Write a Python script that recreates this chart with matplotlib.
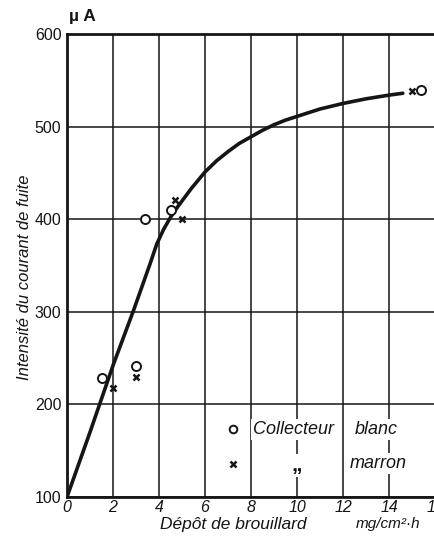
import matplotlib
matplotlib.use("Agg")
import matplotlib.pyplot as plt

# Leakage current vs. fog deposit
curve_x = [0, 1, 2, 2.9, 3.6, 3.9, 4.2, 4.5, 4.8, 5.1, 5.4, 5.7, 6.0, 6.5, 7.0, 7.5,
           8.0, 8.5, 9.0, 9.5, 10, 11, 12, 13, 14, 14.6]
curve_y = [100, 170, 242, 302, 351, 373, 389, 402, 413, 423, 433, 442, 451, 463, 473, 482,
           489, 496, 502, 507, 511, 519, 525, 530, 534, 536]

blanc_x = [1.5, 3.0, 3.4, 4.5, 15.4]
blanc_y = [228, 242, 400, 410, 540]

marron_x = [2.0, 3.0, 4.7, 5.0, 15.0]
marron_y = [218, 230, 421, 400, 538]

x_ticks = [0, 2, 4, 6, 8, 10, 12, 14, 16]
y_ticks = [100, 200, 300, 400, 500, 600]

FONT = ["Liberation Sans", "DejaVu Sans"]
INK = "#151515"

fig = plt.figure(figsize=(4.34, 5.41), dpi=100)
ax = fig.add_axes([67 / 434, 44 / 541, 368 / 434, 463 / 541])
ax.set_xlim(0, 16)
ax.set_ylim(100, 600)

ax.set_xticks(x_ticks)
ax.set_yticks(y_ticks)
ax.grid(True, color=INK, linewidth=1.1)
ax.set_axisbelow(True)
ax.tick_params(length=0)
ax.tick_params(axis="x", pad=2)
ax.tick_params(axis="y", pad=4)
ax.set_xticklabels([str(v) for v in x_ticks], fontsize=11.5, style="italic",
                   family=FONT, color=INK)
ax.set_yticklabels([str(v) for v in y_ticks], fontsize=11.5,
                   family=FONT, color=INK)
for side in ("left", "bottom", "top"):
    ax.spines[side].set_linewidth(2.0)
    ax.spines[side].set_color(INK)
ax.spines["right"].set_visible(False)

ax.plot(curve_x, curve_y, color=INK, linewidth=2.6, solid_capstyle="round",
        solid_joinstyle="round", zorder=3)
ax.plot(blanc_x, blanc_y, linestyle="none", marker="o", markersize=6.5,
        markerfacecolor="white", markeredgecolor=INK, markeredgewidth=1.4,
        clip_on=False, zorder=4)
ax.plot(marron_x, marron_y, linestyle="none", marker="x", markersize=5,
        color=INK, markeredgewidth=1.8, clip_on=False, zorder=4)

# Key
box = dict(facecolor="white", edgecolor="none", pad=1.5)
ax.plot([7.2], [173], linestyle="none", marker="o", markersize=5.5,
        markerfacecolor="white", markeredgecolor=INK, markeredgewidth=1.4, zorder=4)
ax.plot([7.2], [136], linestyle="none", marker="x", markersize=4.5,
        color=INK, markeredgewidth=1.8, zorder=4)
ax.text(8.1, 173, "Collecteur", fontsize=13, style="italic", family=FONT,
        color=INK, va="center", ha="left", bbox=box, zorder=5)
ax.text(12.5, 173, "blanc", fontsize=13, style="italic", family=FONT,
        color=INK, va="center", ha="left", bbox=box, zorder=5)
ax.text(9.75, 134, "„", fontsize=15, weight="bold", family=FONT,
        color=INK, va="center", ha="left", bbox=box, zorder=5)
ax.text(12.3, 136, "marron", fontsize=13, style="italic", family=FONT,
        color=INK, va="center", ha="left", bbox=box, zorder=5)

# Axis titles and units
fig.text(233 / 434, 1 - 525 / 541, "Dépôt de brouillard", fontsize=12.5,
         style="italic", family=FONT, color=INK, ha="center", va="center")
fig.text(388 / 434, 1 - 524 / 541, "mg/cm²·h", fontsize=11,
         style="italic", family=FONT, color=INK, ha="center", va="center")
fig.text(25 / 434, 1 - 277 / 541, "Intensité du courant de fuite", fontsize=12,
         style="italic", family=FONT, color=INK, ha="center", va="center",
         rotation=90)
fig.text(69 / 434, 1 - 16 / 541, "µ A", fontsize=12.5, weight="bold",
         family=FONT, color=INK, ha="left", va="center")

fig.savefig("out.png", dpi=100, facecolor="white")
